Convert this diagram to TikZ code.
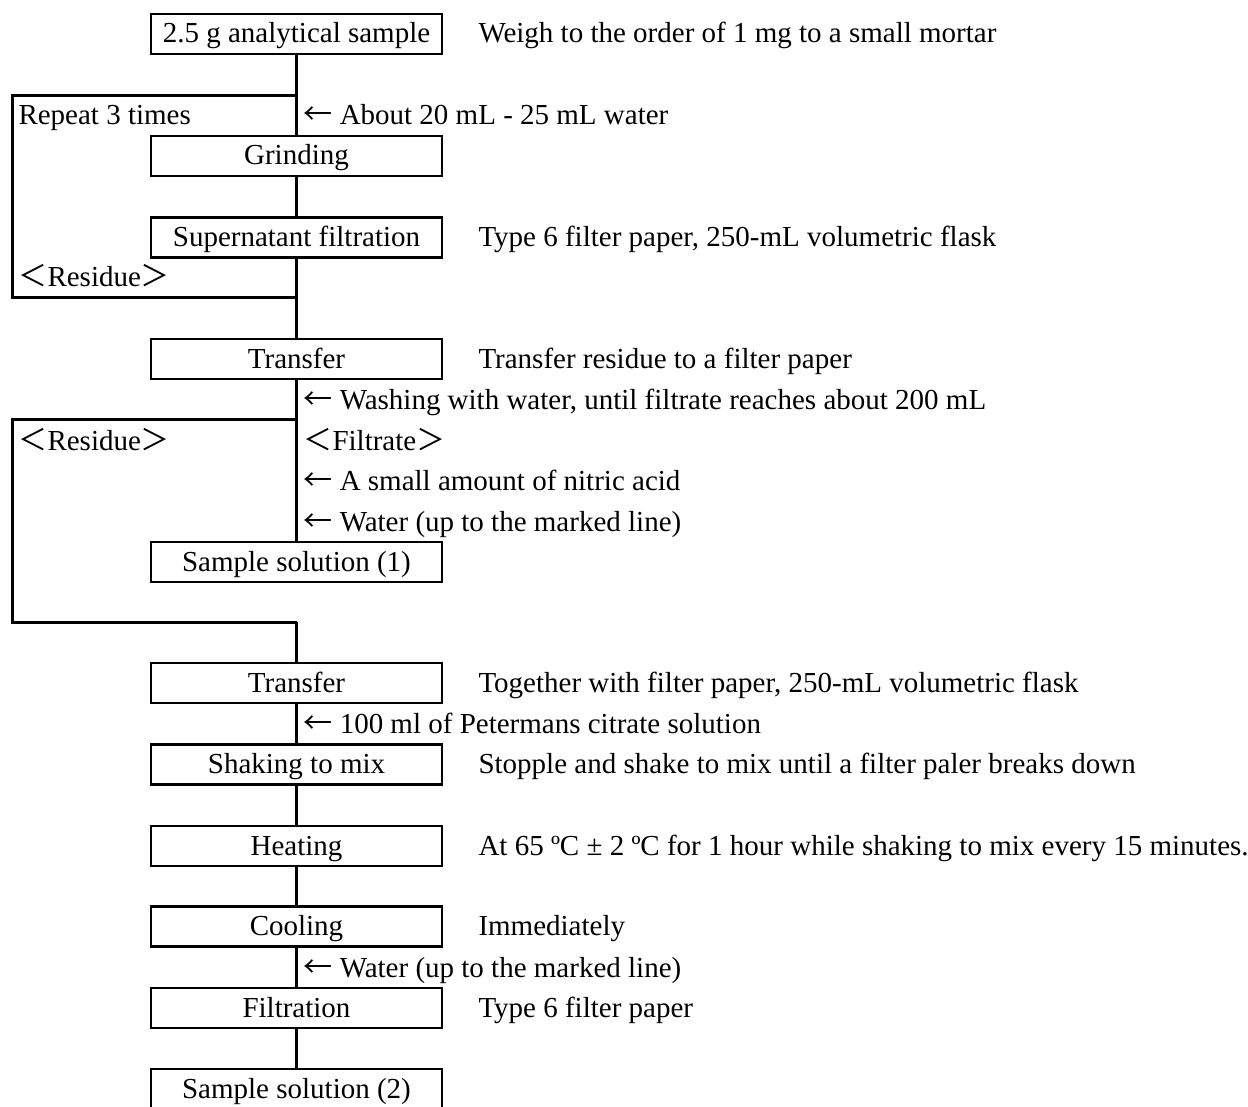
\documentclass[tikz,border=0pt]{standalone}
\usepackage{fontspec}
\setmainfont{Liberation Serif}
\newfontfamily\cjk{Noto Sans CJK JP}
\newcommand\myfs{\fontsize{29pt}{33pt}\selectfont}
\newcommand\larr{{\cjk ←}}
\begin{document}
\begin{tikzpicture}[x=1pt,y=-1pt,line width=3pt,
  box/.style={draw,line width=2.8pt,minimum width=291pt,minimum height=40pt,inner sep=0pt,text height=20pt,text depth=2pt,font=\myfs},
  txt/.style={anchor=west,inner sep=0pt,text height=20pt,text depth=2pt,font=\myfs}]
\useasboundingbox (0,0) rectangle (1248,1107);
\clip (0,0) rectangle (1248,1107);
% boxes
\node[box] (b1) at (296.5,34) {2.5 g analytical sample};
\node[box] (b2) at (296.5,156) {Grinding};
\node[box] (b3) at (296.5,237.5) {Supernatant filtration};
\node[box] (b4) at (296.5,359) {Transfer};
\node[box] (b5) at (296.5,562) {Sample solution (1)};
\node[box] (b6) at (296.5,683) {Transfer};
\node[box] (b7) at (296.5,764.5) {Shaking to mix};
\node[box] (b8) at (296.5,846) {Heating};
\node[box] (b9) at (296.5,926.5) {Cooling};
\node[box] (b10) at (296.5,1008) {Filtration};
\node[box] (b11) at (296.5,1089) {Sample solution (2)};
% main connectors
\draw (b1) -- (b2);
\draw (b2) -- (b3);
\draw (b3) -- (b4);
\draw (b4) -- (b5);
\coordinate (j2) at (296.5,622);
\draw (j2) -- (b6);
\draw (b6) -- (b7);
\draw (b7) -- (b8);
\draw (b8) -- (b9);
\draw (b9) -- (b10);
\draw (b10) -- (b11);
% loop 1
\coordinate (l1a) at (296.5,96);
\coordinate (l1b) at (12,96);
\coordinate (l1c) at (12,298);
\coordinate (l1d) at (296.5,298);
\draw (l1a) -- (l1b) -- (l1c) -- (l1d);
% loop 2
\coordinate (l2a) at (296.5,419);
\coordinate (l2b) at (12,419);
\coordinate (l2c) at (12,622);
\draw (l2a) -- (l2b) -- (l2c) -- (j2);
% left texts
\node[txt] (t1) at (17,116) {Repeat 3 times};
\node[txt] (t2) at (17,278) {{\cjk ＜}Residue{\cjk ＞}};
\node[txt] (t3) at (17,441) {{\cjk ＜}Residue{\cjk ＞}};
% arrow texts
\node[txt] (a1) at (302,116) {\larr\ About 20 mL - 25 mL water};
\node[txt] (a2) at (302,400) {\larr\ Washing with water, until filtrate reaches about 200 mL};
\node[txt] (a3) at (302,441) {{\cjk ＜}Filtrate{\cjk ＞}};
\node[txt] (a4) at (302,481) {\larr\ A small amount of nitric acid};
\node[txt] (a5) at (302,522) {\larr\ Water (up to the marked line)};
\node[txt] (a6) at (302,724) {\larr\ 100 ml of Petermans citrate solution};
\node[txt] (a7) at (302,968) {\larr\ Water (up to the marked line)};
% right texts
\node[txt] (r1) at (477,34) {Weigh to the order of 1 mg to a small mortar};
\node[txt] (r2) at (477,237.5) {Type 6 filter paper, 250-mL volumetric flask};
\node[txt] (r3) at (477,359) {Transfer residue to a filter paper};
\node[txt] (r4) at (477,683) {Together with filter paper, 250-mL volumetric flask};
\node[txt] (r5) at (477,764.5) {Stopple and shake to mix until a filter paler breaks down};
\node[txt] (r6) at (477,846) {At 65 ºC ± 2 ºC for 1 hour while shaking to mix every 15 minutes.};
\node[txt] (r7) at (477,926.5) {Immediately};
\node[txt] (r8) at (477,1008) {Type 6 filter paper};
\end{tikzpicture}
\end{document}
